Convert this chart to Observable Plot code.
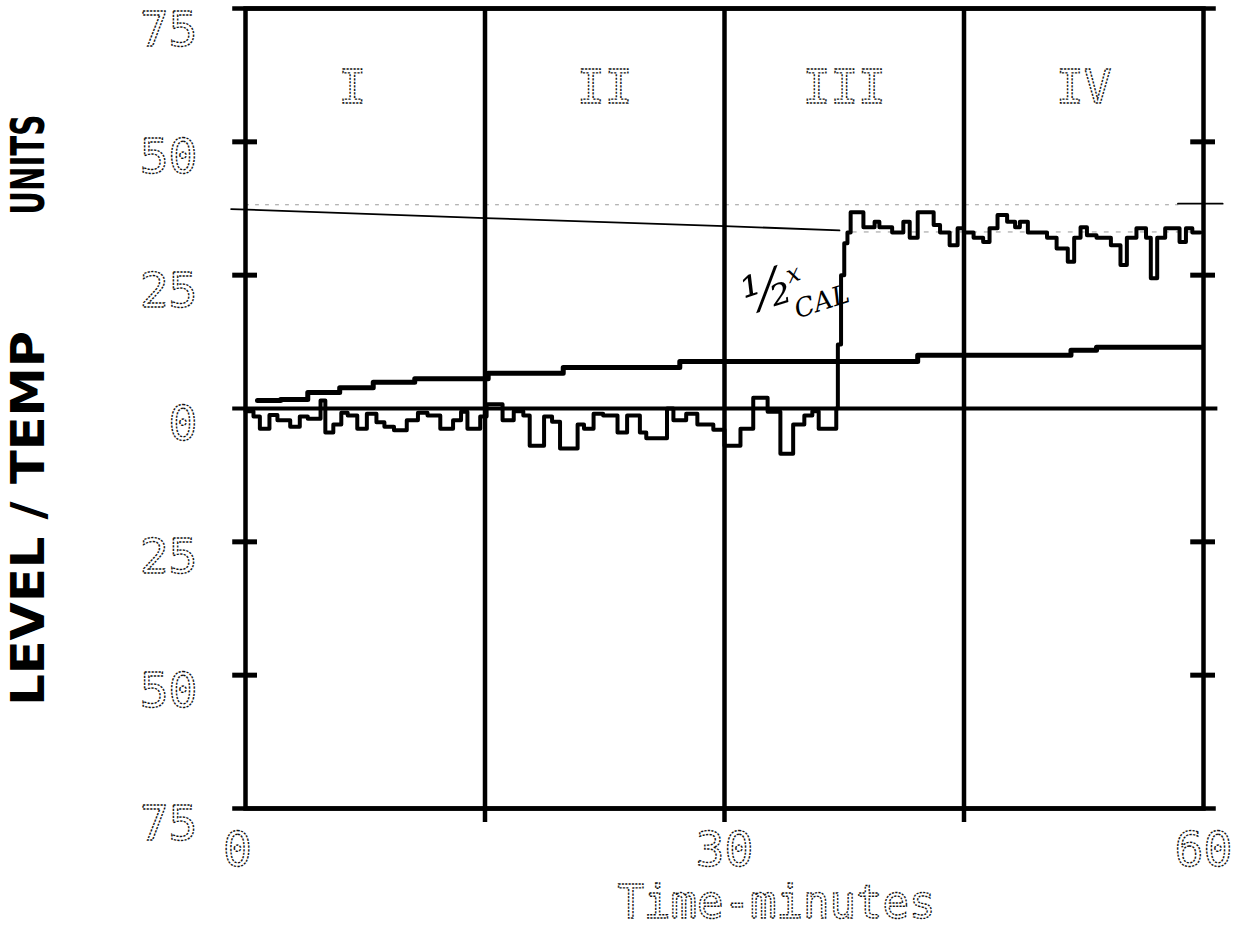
<!DOCTYPE html>
<html><head><meta charset="utf-8">
<script src="https://cdn.jsdelivr.net/npm/d3@7"></script>
<script src="https://cdn.jsdelivr.net/npm/@observablehq/plot@0.6"></script>
<style>html,body{margin:0;padding:0;background:#fff;} #chart{width:1233px;height:931px;}</style>
</head><body><div id="chart"></div>
<script>
// ---- data ----
const sections = ["I", "II", "III", "IV"];
const sectionBounds = [0, 15, 30, 45, 60];
const yTicks = [-75, -50, -25, 0, 25, 50, 75];
const yMinorTicks = [-50, -25, 25, 50];
const xTickLabels = [0, 30, 60];
const xDividers = [15, 30, 45];

// noisy level trace (minutes, units)
const levelTime = [0.0,0.5,0.9,1.5,2.0,2.8,3.4,3.9,4.7,5.0,5.5,6.0,6.4,7.0,7.6,8.2,8.7,9.3,10.1,10.8,11.4,12.2,13.0,13.5,13.9,14.7,
  15.1,16.1,16.8,17.4,17.8,18.7,19.2,19.7,20.8,21.2,21.8,22.4,23.3,23.9,24.7,25.1,26.4,26.8,27.6,28.3,29.3,30.0,31.0,
  31.8,32.7,33.5,34.3,35.0,35.5,35.9,37.0,37.1,37.3,37.5,37.7,37.9,38.7,39.4,39.7,40.5,41.2,41.6,42.1,43.1,
  43.5,44.1,44.6,45.0,45.6,46.2,46.6,47.1,47.7,48.2,48.5,49.0,50.2,50.8,51.5,51.9,52.3,52.7,53.3,54.2,
  54.8,55.2,55.8,56.4,56.7,57.1,57.6,58.5,58.9,59.3,59.8];
const levelValue = [-0.5,-1.5,-3.8,-1.2,-2.2,-3.4,-1.5,-1.9,1.5,-4.5,-3.0,-0.8,-1.3,-3.8,-1.0,-2.6,-3.4,-4.1,-2.2,-0.8,-1.3,-3.8,-2.2,-0.6,-3.8,-1.5,
  0.8,-2.2,-0.5,-1.3,-7.0,-1.5,-2.5,-7.5,-3.0,-3.8,-1.0,-1.3,-4.5,-1.3,-4.5,-5.6,0,-2.2,-1.0,-3.0,-4.0,-7.0,-3.8,
  2.0,-0.6,-8.5,-3.0,-1.3,-0.5,-3.8,0,12,25,31,33,36.8,34,35,34,33,35,32,36.8,34.4,
  33,30.6,33.8,33,32,31.2,33.8,36.3,35,34,35,33,32,30,27.5,32,34,32.5,32,30.6,
  26.9,32,33.8,32,24.4,32,33.8,31.2,33.8,33,33];

// staircase (accumulated) trace
const stairTime = [0.75, 2.2, 3.9, 5.9, 8.0, 10.6, 15.2, 19.9, 27.2, 42.1, 51.7, 53.3, 59.9];
const stairValue = [1.5, 1.7, 3.0, 3.9, 4.9, 5.6, 6.6, 7.7, 8.8, 10.0, 10.9, 11.5, 11.5];

// thin temperature line
const tempTime = [-0.9, 15, 30, 37.2];
const tempValue = [37.4, 35.7, 34.2, 33.4];
// faint dotted reference lines
const refTopTime = [0, 58.4];
const refTopValue = [38.2, 38.2];
const refTopEndTime = [58.4, 61.2];
const refTopEndValue = [38.4, 38.4];
const refMidTime = [38, 59.5];
const refMidValue = [33.1, 33.1];

// handwritten note
const noteText = ["½", "x", "CAL"];
const noteTime = [32.7, 34.3, 36.1];
const noteValue = [22.0, 25.2, 20.0];
const noteSize = [52, 24, 26];

// ---- tables ----
const level = levelTime.map((t, i) => ({t, v: levelValue[i]}));
const stair = stairTime.map((t, i) => ({t, v: stairValue[i]}));
const temp = tempTime.map((t, i) => ({t, v: tempValue[i]}));
const refTop = refTopTime.map((t, i) => ({t, v: refTopValue[i]}));
const refTopEnd = refTopEndTime.map((t, i) => ({t, v: refTopEndValue[i]}));
const refMid = refMidTime.map((t, i) => ({t, v: refMidValue[i]}));
const notes = noteText.map((text, i) => ({text, t: noteTime[i], v: noteValue[i], size: noteSize[i]}));

const plot = Plot.plot({
  width: 1233, height: 931,
  marginLeft: 245, marginRight: 30, marginTop: 8, marginBottom: 123,
  x: {domain: [0, 60]},
  y: {domain: [-75, 75]},
  style: {fontFamily: "'DejaVu Sans Mono', monospace", background: "#fff", color: "#000", overflow: "visible"},
  marks: [
    // faint reference lines
    Plot.line(refTop, {x: "t", y: "v", stroke: "#999", strokeWidth: 1, strokeDasharray: "3,7"}),
    Plot.line(refMid, {x: "t", y: "v", stroke: "#999", strokeWidth: 1, strokeDasharray: "4,8"}),
    Plot.line(refTopEnd, {x: "t", y: "v", stroke: "#000", strokeWidth: 1.8}),
    Plot.line(temp, {x: "t", y: "v", stroke: "#000", strokeWidth: 1.8}),
    // section dividers
    Plot.ruleX(xDividers, {y1: -75, y2: 75, strokeWidth: 4.5}),
    Plot.axisX({ticks: xDividers, tickSize: 14, strokeWidth: 4.5, tickFormat: () => "", label: null}),
    // frame + extended borders
    Plot.frame({strokeWidth: 4.5}),
    Plot.ruleY([-75, 75], {x1: -0.8, x2: 60.8, strokeWidth: 4.5}),
    Plot.ruleY([0], {x1: -0.8, x2: 60.9, strokeWidth: 4}),
    Plot.ruleY(yMinorTicks, {x1: -0.8, x2: 0.75, strokeWidth: 5}),
    Plot.ruleY(yMinorTicks, {x1: 59.2, x2: 60.75, strokeWidth: 5}),
    // traces
    Plot.line(stair, {x: "t", y: "v", curve: "step-after", strokeWidth: 5, stroke: "#000"}),
    Plot.line(level, {x: "t", y: "v", curve: "step-after", strokeWidth: 4, stroke: "#000"}),
    // axes labels
    Plot.axisY({ticks: yTicks, tickSize: 0, tickPadding: 48, tickFormat: d => String(Math.abs(d)),
      fontSize: 48, dy: 16, label: null, className: "dotm ylab"}),
    Plot.axisX({ticks: xTickLabels, tickSize: 0, tickPadding: 23, fontSize: 48, label: null, className: "dotm xlab"}),
    // section labels
    Plot.text(sections, {x: (d, i) => (sectionBounds[i] + sectionBounds[i + 1]) / 2, y: () => 60,
      text: d => d, fontSize: 46, className: "dotm seclab"}),
    // axis titles
    Plot.text(["Time-minutes"], {x: () => 33.25, frameAnchor: "bottom", dy: 109, text: d => d,
      fontSize: 46, className: "dotm xtitle"}),
    Plot.text(["LEVEL / TEMP"], {frameAnchor: "left", y: () => -20.6, dx: -216, rotate: -90, text: d => d,
      textAnchor: "middle", fontSize: 46, fontFamily: "DejaVu Sans", fontWeight: "bold", className: "ytitle1"}),
    Plot.text(["UNITS"], {frameAnchor: "left", y: () => 45.7, dx: -216, rotate: -90, text: d => d,
      textAnchor: "middle", fontSize: 46, fontFamily: "DejaVu Sans", fontWeight: "bold", className: "ytitle2"}),
    // handwritten annotation
    Plot.text(notes, {x: "t", y: "v", text: "text", fontSize: d => d.size, rotate: -18,
      fontFamily: "DejaVu Serif", fontStyle: "italic", fill: "#000"})
  ]
});
document.getElementById("chart").appendChild(plot);
const svg = d3.select(plot);
// dot-matrix look for printed labels
svg.selectAll(".dotm text")
  .attr("fill", "none").attr("stroke", "#111").attr("stroke-width", 1.4).attr("stroke-dasharray", "2.2,1.3");
svg.selectAll(".xtitle text").attr("textLength", 318).attr("lengthAdjust", "spacingAndGlyphs");
svg.selectAll(".ytitle1 text").attr("textLength", 375).attr("lengthAdjust", "spacingAndGlyphs");
svg.selectAll(".ytitle2 text").attr("textLength", 100).attr("lengthAdjust", "spacingAndGlyphs");
// small printer offsets of individual labels
svg.select(".xlab text").attr("dx", -8);
svg.select(".seclab text").attr("dx", -13);
const yl = svg.selectAll(".ylab text").nodes();
if (yl.length) d3.select(yl[yl.length - 1]).attr("dy", "0.12em");
</script>
</body></html>
